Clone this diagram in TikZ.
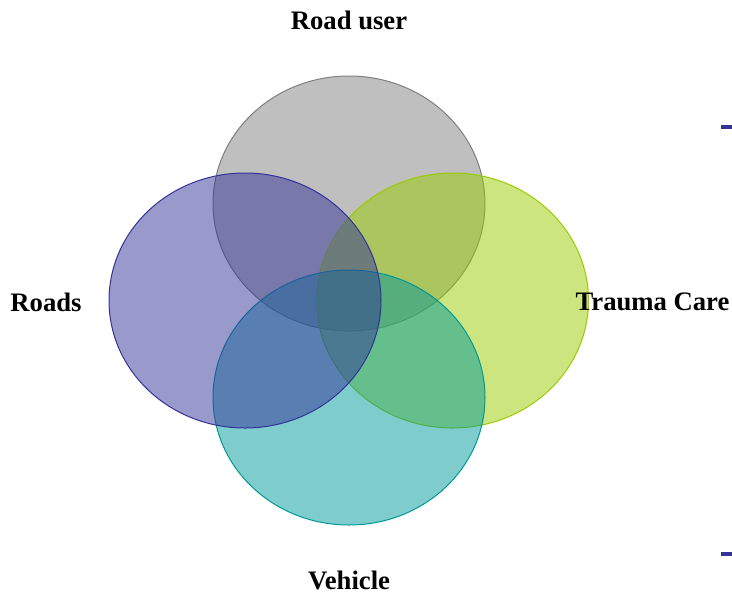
\documentclass[tikz,border=0pt]{standalone}
\usepackage{fontspec}
\setmainfont{Liberation Serif}
\begin{document}
\begin{tikzpicture}[x=0.75pt,y=-0.75pt,
  petal/.style={line width=0.75pt, fill opacity=0.5},
  setlabel/.style={font=\fontsize{20}{24}\selectfont\bfseries, inner sep=0pt},
  tick/.style={fill=tickblue, draw=none}]
\definecolor{gridgray}{HTML}{7F7F7F}
\definecolor{roadblue}{HTML}{333399}
\definecolor{limegreen}{HTML}{99CC00}
\definecolor{tealc}{HTML}{009999}
\definecolor{tickblue}{HTML}{333399}
\useasboundingbox (0,0) rectangle (732,594);

% four overlapping sets (stacking: gray, green, teal, blue)
\draw[petal, draw=gridgray, fill=gridgray] (349,203.5) ellipse [x radius=136, y radius=127.5];
\draw[petal, draw=limegreen, fill=limegreen] (452.5,300.5) ellipse [x radius=136, y radius=127.5];
\draw[petal, draw=tealc, fill=tealc] (349,397.5) ellipse [x radius=136, y radius=127.5];
\draw[petal, draw=roadblue, fill=roadblue] (245,300.5) ellipse [x radius=136, y radius=127.5];

% set names
\node[setlabel] (user) at (349,20) {Road user};
\node[setlabel] (roads) at (46,302) {Roads};
\node[setlabel] (trauma) at (652.5,302) {Trauma Care};
\node[setlabel] (vehicle) at (349,580.5) {Vehicle};

% small marks on the right edge
\fill[tick] (721,125) rectangle (732,129);
\fill[tick] (721,552) rectangle (732,556);
\end{tikzpicture}
\end{document}
